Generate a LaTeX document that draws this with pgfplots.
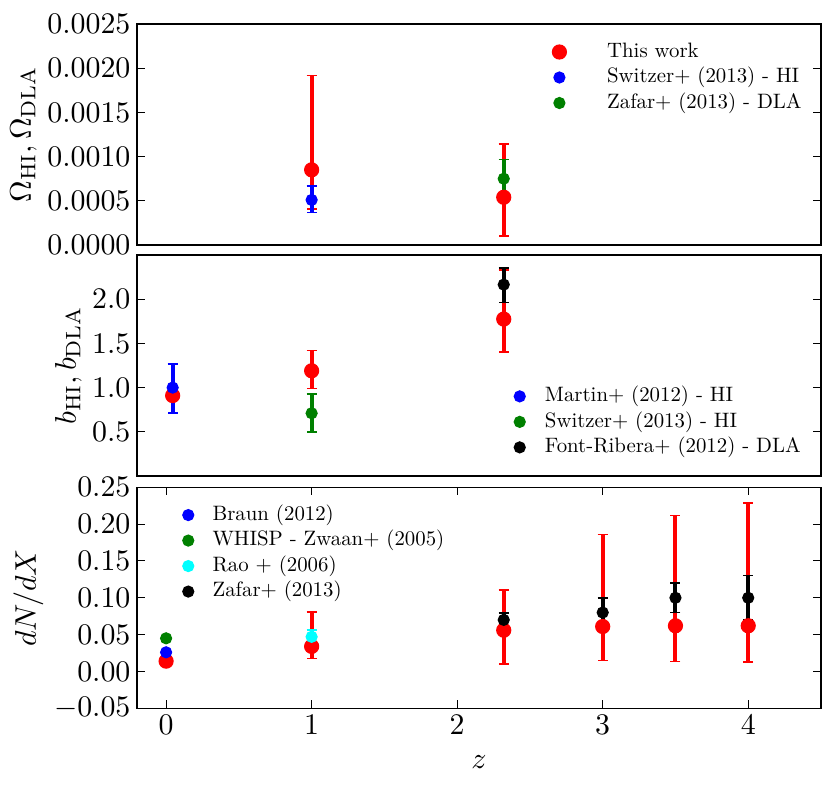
\documentclass[border=0pt]{standalone}
\usepackage{pgfplots}
\pgfplotsset{compat=1.18}
\definecolor{mgreen}{RGB}{0,128,0}
\definecolor{mcyan}{RGB}{0,255,255}
\newcommand\legtxt[1]{\scalebox{0.697}{#1}}
\pgfplotsset{
  myaxis/.style={
    scale only axis, width=228bp, height=73.667bp,
    xmin=-0.2, xmax=4.5,
    axis line style={line width=0.4bp},
    every tick/.style={line width=0.33bp, black},
    major tick length=2.667bp,
    tick align=inside,
    tick label style={font=\fontsize{10}{12}\selectfont, inner sep=2bp},
    label style={font=\fontsize{10}{12}\selectfont},
    ylabel style={inner sep=1.333bp},
    xlabel style={inner sep=5bp},
    legend style={draw=none, fill=none, font=\fontsize{10}{12}\selectfont,
      row sep=0pt, column sep=0pt, inner sep=0pt, outer sep=0pt,
      nodes={inner sep=0pt, text height=6bp, text depth=2.5bp}},
    legend cell align=left,
    error bars/y dir=both, error bars/y explicit,
  },
  ser/.style={only marks, mark=*, mark size=1.833bp, color=#1,
    mark options={fill=#1, draw=#1},
    error bars/error bar style={line width=1.333bp, #1},
    error bars/error mark options={rotate=90, line width=0.5bp, mark size=1.667bp, #1}},
  redser/.style={ser=red, mark size=2.333bp},
}
\begin{document}
\begin{tikzpicture}
\path[use as bounding box] (-45.667bp,0bp) rectangle (231bp,-263bp);

% ---------- Panel 1 ----------
\begin{axis}[myaxis, at={(0bp,-8bp)}, anchor=north west,
  ymin=0, ymax=0.0025, xtick=\empty,
  ytick={0,0.0005,0.001,0.0015,0.002,0.0025},
  scaled y ticks=false,
  yticklabel style={/pgf/number format/.cd, fixed, fixed zerofill, precision=4},
  ylabel={$\Omega_{\rm HI}, \Omega_{\rm DLA}$},
  legend style={at={(0.605,0.931)}, anchor=north west},
  legend image code/.code={\path (-2.667bp,0bp) (15.7bp,0bp); \draw[#1] plot coordinates {(0bp,0bp)};},
]
\addplot[redser] coordinates {
  (1, 0.00085) += (0,0.00107) -= (0,0.00044)
  (2.32, 0.00054) += (0,0.0006) -= (0,0.00044)
};
\addlegendentry{\legtxt{This work}}
\addplot[ser=blue] coordinates {
  (1, 0.00051) += (0,0.000155) -= (0,0.000145)
};
\addlegendentry{\legtxt{Switzer+ (2013) - HI}}
\addplot[ser=mgreen] coordinates {
  (2.32, 0.00075) += (0,0.00022) -= (0,0.00022)
};
\addlegendentry{\legtxt{Zafar+ (2013) - DLA}}
\end{axis}

% ---------- Panel 2 ----------
\begin{axis}[myaxis, at={(0bp,-85bp)}, anchor=north west,
  ymin=0, ymax=2.5, xtick=\empty,
  ytick={0.5,1.0,1.5,2.0},
  yticklabel style={/pgf/number format/.cd, fixed, fixed zerofill, precision=1},
  ylabel={$b_{\rm HI}, b_{\rm DLA}$},
  legend style={at={(0.547,0.418)}, anchor=north west},
  legend image code/.code={\path (-2.667bp,0bp) (8.2bp,0bp); \draw[#1] plot coordinates {(0bp,0bp)};},
]
\addplot[redser, forget plot] coordinates {
  (0.045, 0.91) += (0,0) -= (0,0)
  (1, 1.19) += (0,0.23) -= (0,0.2)
  (2.32, 1.775) += (0,0.555) -= (0,0.37)
};
\addplot[ser=blue] coordinates {
  (0.045, 1.0) += (0,0.265) -= (0,0.29)
};
\addlegendentry{\legtxt{Martin+ (2012) - HI}}
\addplot[ser=mgreen] coordinates {
  (1, 0.71) += (0,0.215) -= (0,0.21)
};
\addlegendentry{\legtxt{Switzer+ (2013) - HI}}
\addplot[ser=black] coordinates {
  (2.32, 2.165) += (0,0.19) -= (0,0.205)
};
\addlegendentry{\legtxt{Font-Ribera+ (2012) - DLA}}
\end{axis}

% ---------- Panel 3 ----------
\begin{axis}[myaxis, at={(0bp,-162.433bp)}, anchor=north west,
  ymin=-0.05, ymax=0.25,
  xtick={0,1,2,3,4},
  ytick={-0.05,0,0.05,0.1,0.15,0.2,0.25},
  yticklabel style={/pgf/number format/.cd, fixed, fixed zerofill, precision=2},
  ylabel={$dN/dX$},
  xlabel={$z$},
  legend style={at={(0.0624,0.932)}, anchor=north west},
  legend image code/.code={\path (-2.667bp,0bp) (7.9bp,0bp); \draw[#1] plot coordinates {(0bp,0bp)};},
]
\addplot[redser, forget plot] coordinates {
  (0, 0.014) += (0,0.001) -= (0,0.001)
  (1, 0.034) += (0,0.047) -= (0,0.0167)
  (2.32, 0.056) += (0,0.0546) -= (0,0.0462)
  (3, 0.061) += (0,0.125) -= (0,0.046)
  (3.5, 0.062) += (0,0.150) -= (0,0.0484)
  (4, 0.062) += (0,0.167) -= (0,0.0493)
};
\addplot[ser=blue] coordinates {
  (0, 0.026) += (0,0.002) -= (0,0.002)
};
\addlegendentry{\legtxt{Braun (2012)}}
\addplot[ser=mgreen] coordinates {
  (0, 0.045) += (0,0.004) -= (0,0.004)
};
\addlegendentry{\legtxt{WHISP - Zwaan+ (2005)}}
\addplot[ser=mcyan] coordinates {
  (1, 0.047) += (0,0.0095) -= (0,0.0095)
};
\addlegendentry{\legtxt{Rao + (2006)}}
\addplot[ser=black] coordinates {
  (2.32, 0.070) += (0,0.0095) -= (0,0.0095)
  (3, 0.080) += (0,0.0195) -= (0,0.0195)
  (3.5, 0.100) += (0,0.02) -= (0,0.02)
  (4, 0.100) += (0,0.03) -= (0,0.03)
};
\addlegendentry{\legtxt{Zafar+ (2013)}}
\end{axis}
\end{tikzpicture}
\end{document}
